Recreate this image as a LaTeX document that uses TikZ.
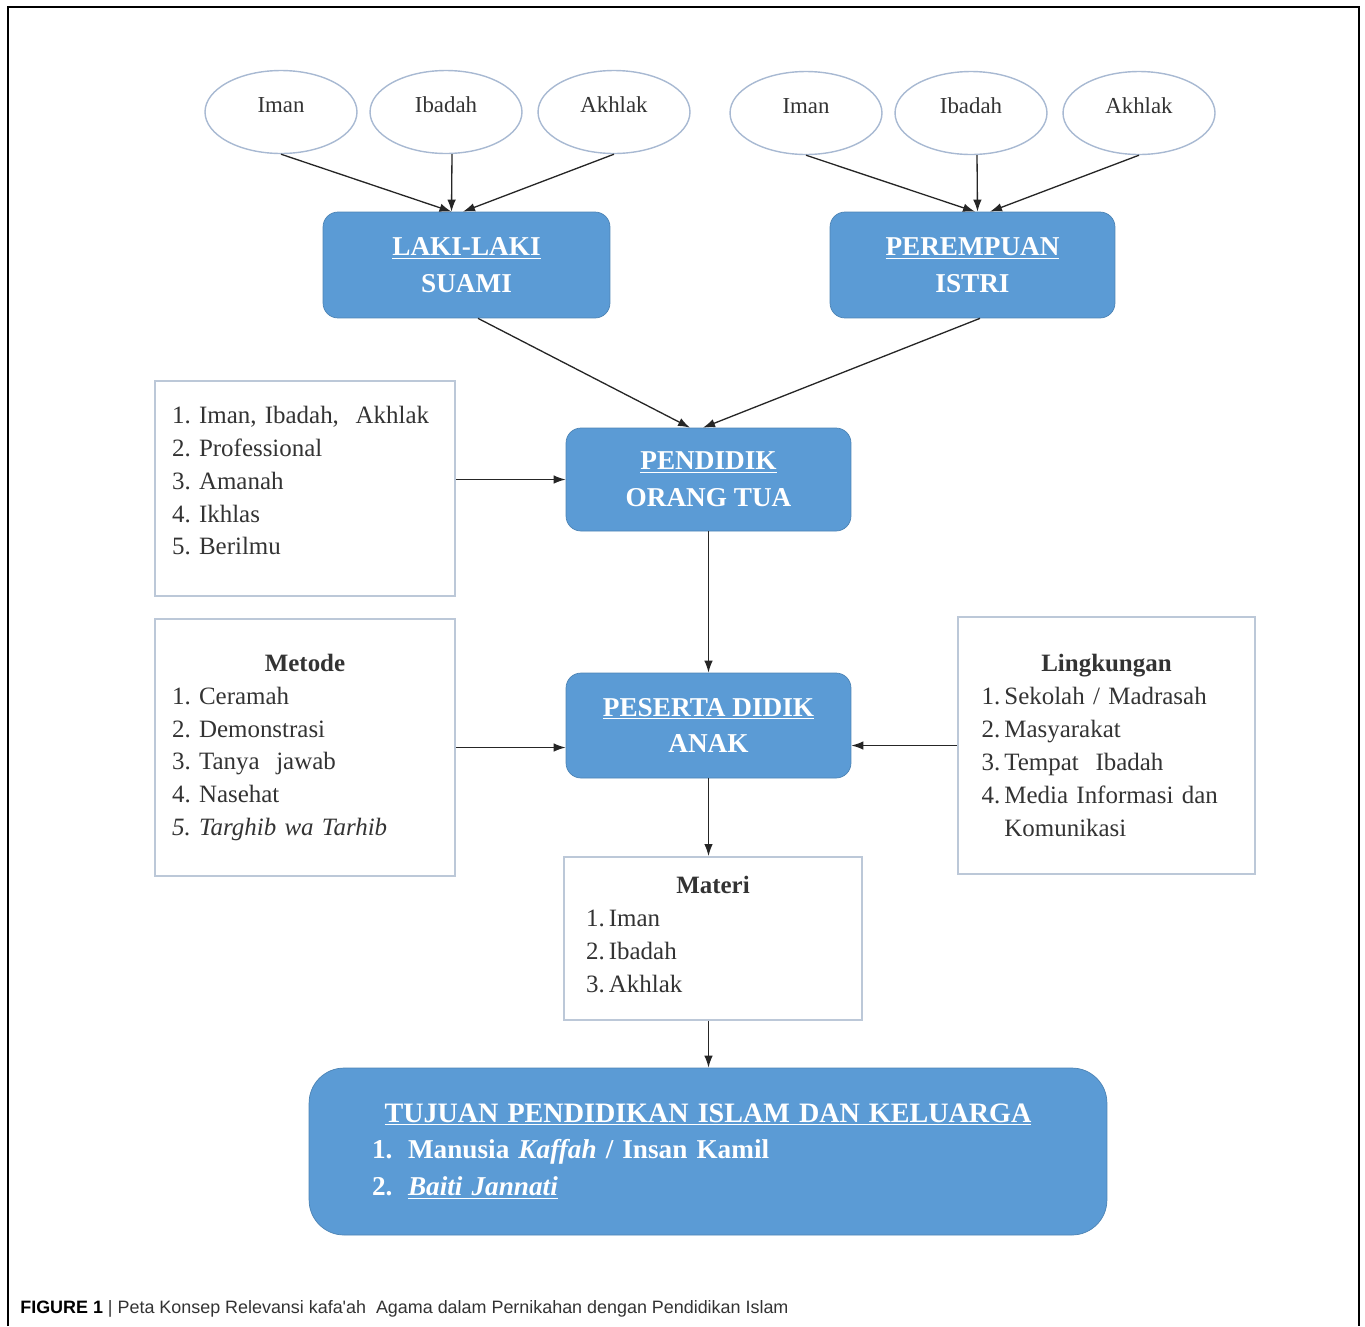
\documentclass[tikz,border=0pt]{standalone}
\usepackage{fontspec}
\setmainfont{Liberation Serif}
\newfontfamily\capfont{Liberation Sans}
\usetikzlibrary{arrows.meta,shapes.geometric}
\definecolor{boxblue}{HTML}{5B9BD5}
\definecolor{ovalline}{HTML}{A8B9D2}
\definecolor{listline}{HTML}{BCC8D8}
\definecolor{inktext}{HTML}{333333}
\tikzset{
  ovalnode/.style={ellipse,draw=ovalline,line width=0.8pt,minimum width=3.04cm,minimum height=1.66cm,inner sep=0pt,text height=0pt,text depth=0pt,text=inktext,font=\fontsize{13}{16}\selectfont},
  bluebox/.style={rectangle,rounded corners=0.3cm,fill=boxblue,draw=boxblue!85!black,line width=0.4pt,minimum width=5.7cm,text=white,align=center,font=\bfseries\fontsize{15.5}{21}\selectfont},
  listbox/.style={rectangle,draw=listline,line width=1.1pt,text=inktext,align=left,font=\fontsize{14.2}{18.7}\selectfont},
  link/.style={-{Latex[length=2.4mm,width=1.7mm]},line width=0.75pt,draw=black!85}
}

\begin{document}
\begin{tikzpicture}[x=0.02cm,y=-0.02cm]
\useasboundingbox (0,0) rectangle (1365,1326);
\draw[line width=1.1pt] (8,1326) -- (8,7) -- (1359,7) -- (1359,1326);

\node[ovalnode] (imanA) at (281,112) {Iman};
\node[ovalnode] (ibadahA) at (446,112) {Ibadah};
\node[ovalnode] (akhlakA) at (614,112) {Akhlak};
\node[ovalnode] (imanB) at (806,113) {Iman};
\node[ovalnode] (ibadahB) at (971,113) {Ibadah};
\node[ovalnode] (akhlakB) at (1139,113) {Akhlak};

\node[bluebox,minimum width=5.74cm,minimum height=2.12cm] (suami) at (466.5,265) {\underline{LAKI-LAKI}\\SUAMI};
\node[bluebox,minimum height=2.12cm] (istri) at (972.5,265) {\underline{PEREMPUAN}\\ISTRI};
\node[bluebox,minimum height=2.06cm] (pendidik) at (708.5,479.5) {\underline{PENDIDIK}\\ORANG TUA};
\node[bluebox,minimum height=2.1cm] (peserta) at (708.5,725.5) {\underline{PESERTA DIDIK}\\ANAK};

\node[listbox,minimum width=6cm,minimum height=4.3cm,text width=5.32cm] (sifat) at (305,488.5)
  {1.\ Iman, Ibadah,\ \ Akhlak\\2.\ Professional\\3.\ Amanah\\4.\ Ikhlas\\5.\ Berilmu\\[-9.7pt]\mbox{}};
\node[listbox,minimum width=6cm,minimum height=5.14cm,text width=5.32cm] (metode) at (305,747.5)
  {\makebox[\linewidth]{\textbf{Metode}}\\1.\ Ceramah\\2.\ Demonstrasi\\3.\ Tanya\ \ jawab\\4.\ Nasehat\\\textit{5.\ Targhib wa Tarhib}};
\node[listbox,minimum width=5.94cm,minimum height=5.14cm,text width=5.0cm] (lingkungan) at (1106.5,745.5)
  {\makebox[\linewidth]{\textbf{Lingkungan}}\\1.\,Sekolah / Madrasah\\2.\,Masyarakat\\3.\,Tempat\ \ Ibadah\\4.\,Media Informasi dan\\\phantom{4.\,}Komunikasi};
\node[listbox,minimum width=5.96cm,minimum height=3.26cm,text width=5.08cm] (materi) at (713,938.5)
  {\makebox[\linewidth]{\textbf{Materi}}\\1.\,Iman\\2.\,Ibadah\\3.\,Akhlak\\[-14pt]\mbox{}};

\node[bluebox,rounded corners=0.7cm,minimum width=15.96cm,minimum height=3.34cm,text width=13.44cm,align=left] (tujuan) at (708,1151.5)
  {\makebox[\linewidth]{\fontsize{16}{21}\selectfont\underline{TUJUAN PENDIDIKAN ISLAM DAN KELUARGA}}\\
   \makebox[1.32em][l]{1.}Manusia \textit{Kaffah} / Insan Kamil\\
   \makebox[1.32em][l]{2.}\underline{\textit{Baiti Jannati}}};

\draw[link] (imanA.south) -- ([xshift=-0.3cm]suami.north);
\draw[link] ([xshift=0.12cm]ibadahA.south) -- ([xshift=-0.3cm]suami.north);
\draw[link] (akhlakA.south) -- ([xshift=-0.07cm]suami.north);
\draw[link] (imanB.south) -- ([xshift=0.05cm]istri.north);
\draw[link] ([xshift=0.12cm]ibadahB.south) -- ([xshift=0.1cm]istri.north);
\draw[link] (akhlakB.south) -- ([xshift=0.35cm]istri.north);

\draw[link] ([xshift=0.23cm]suami.south) -- ([xshift=-0.37cm]pendidik.north);
\draw[link] ([xshift=0.15cm]istri.south) -- ([xshift=-0.11cm]pendidik.north);
\draw[link] (sifat.east |- pendidik.west) -- (pendidik.west);
\draw[link] (pendidik.south) -- (peserta.north);
\draw[link] (metode.east) -- (metode.east -| peserta.west);
\draw[link] (lingkungan.west) -- (lingkungan.west -| peserta.east);
\draw[link] (peserta.south) -- (peserta.south |- materi.north);
\draw[link] (peserta.south |- materi.south) -- (peserta.south |- tujuan.north);

\node[anchor=base west,inner sep=0pt,font=\capfont\fontsize{10.2}{12}\selectfont,text=inktext] (caption) at (20,1313)
  {\textcolor{black}{\bfseries FIGURE 1} | Peta Konsep Relevansi kafa\textquotesingle ah\ \ Agama dalam Pernikahan dengan Pendidikan Islam};
\end{tikzpicture}
\end{document}
